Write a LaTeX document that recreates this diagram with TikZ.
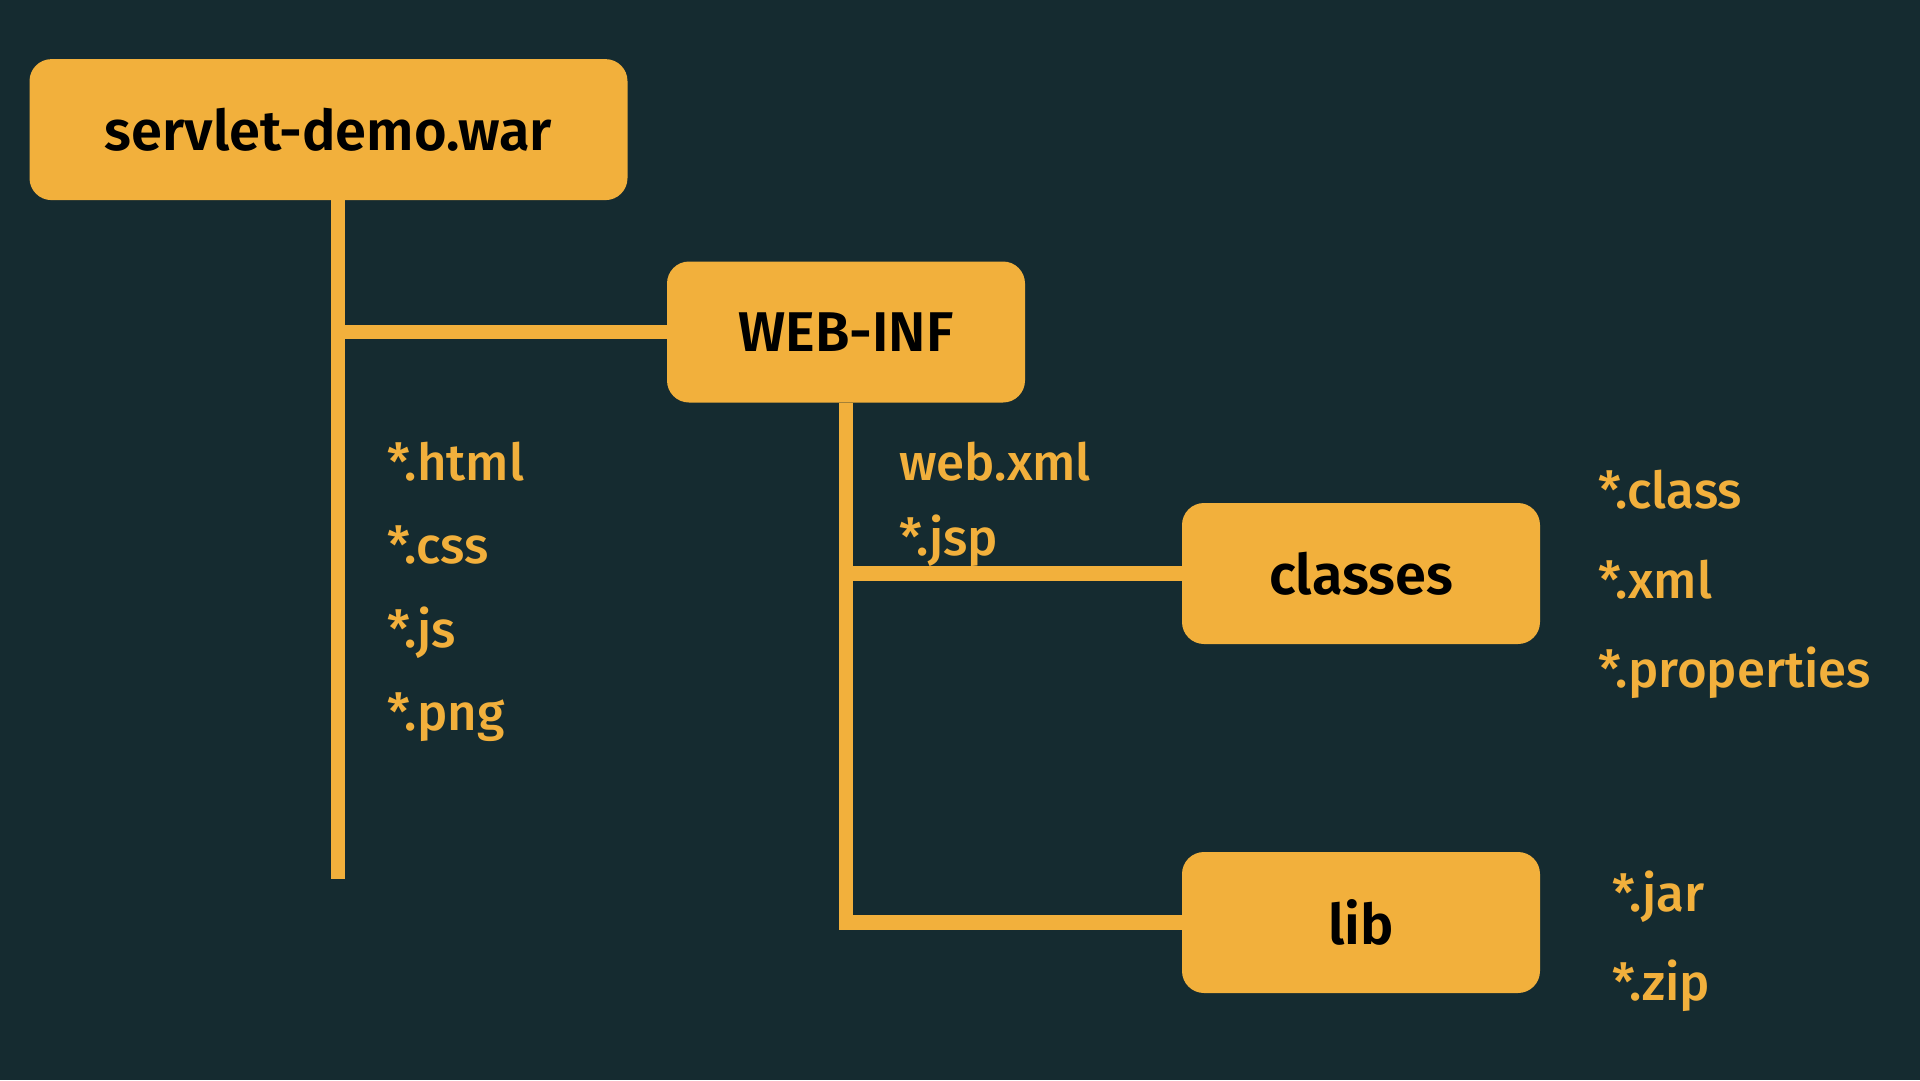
\documentclass[tikz,border=0pt]{standalone}
\usepackage{fontspec}
\setmainfont{Fira Sans}
\newfontfamily\medfont{Fira Sans Medium}
\newfontfamily\sbfont{Fira Sans SemiBold}
\definecolor{bgc}{HTML}{152B30}
\definecolor{orc}{HTML}{F2B03C}
\begin{document}
\begin{tikzpicture}[x=1pt,y=-1pt,
  box/.style={draw=none,fill=orc,rounded corners=22pt,inner sep=0pt,
    minimum height=141pt,text=black,font=\sbfont\fontsize{56}{62}\selectfont},
  file/.style={anchor=base west,inner sep=0pt,text=orc,font=\medfont\fontsize{51}{56}\selectfont},
  conn/.style={draw=orc,line width=14.5pt}]
\fill[bgc] (0,0) rectangle (1920,1080);
\useasboundingbox (0,0) rectangle (1920,1080);
\node[box,minimum width=598pt] (war) at (328.5,129.6) {servlet-demo.war};
\node[box,minimum width=358pt] (webinf) at (846,332) {WEB-INF};
\node[box,minimum width=358pt] (classes) at (1361,573.5) {classes};
\node[box,minimum width=358pt] (lib) at (1361,922.5) {lib};
\coordinate (t1) at (338,879);
\coordinate (t2) at (846,930);
\draw[conn] (war.south -| t1) -- (t1);
\draw[conn] ([xshift=-7pt]t1 |- webinf.west) -- (webinf.west);
\draw[conn] (webinf.south) -- (t2);
\draw[conn] ([xshift=-7pt]t2 |- classes.west) -- (classes.west);
\draw[conn] ([xshift=-7pt]t2 |- lib.west) -- (lib.west);
\node[file] (f1) at (387,480) {*.html};
\node[file] (f2) at (387,563) {*.css};
\node[file] (f3) at (387,647) {*.js};
\node[file] (f4) at (387,730) {*.png};
\node[file] (w1) at (899,480) {web.xml};
\node[file] (w2) at (899,555) {*.jsp};
\node[file] (c1) at (1598,508) {*.class};
\node[file] (c2) at (1598,598) {*.xml};
\node[file] (c3) at (1598,687) {*.properties};
\node[file] (l1) at (1612,911) {*.jar};
\node[file] (l2) at (1612,1000) {*.zip};
\end{tikzpicture}
\end{document}
